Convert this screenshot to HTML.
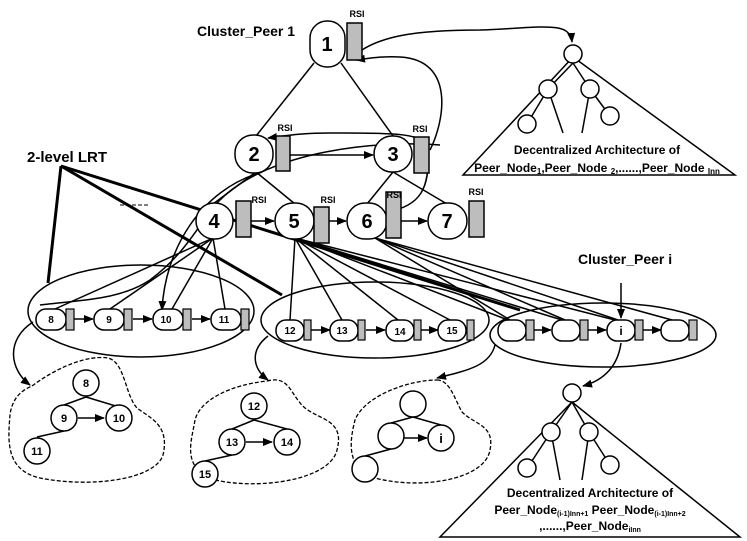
<!DOCTYPE html>
<html><head><meta charset="utf-8"><style>
html,body{margin:0;padding:0;background:#fff}
svg{display:block}
text{font-family:"Liberation Sans",sans-serif;font-weight:bold;fill:#000}
</style></head><body>
<svg width="747" height="541" viewBox="0 0 747 541" xmlns="http://www.w3.org/2000/svg">
<defs>
<marker id="a" markerWidth="10" markerHeight="8" refX="9" refY="4" orient="auto" markerUnits="userSpaceOnUse"><path d="M0,0 L10,4 L0,8 z" fill="#000"/></marker>
</defs>
<g stroke="#000" stroke-width="1.5" fill="none">
<line x1="314" y1="63" x2="256" y2="136"/>
<line x1="341" y1="63" x2="393" y2="136"/>
<line x1="256" y1="172" x2="213" y2="204"/>
<line x1="256" y1="172" x2="295" y2="204"/>
<line x1="393" y1="172" x2="367" y2="204"/>
<line x1="393" y1="172" x2="447" y2="204"/>
<line x1="213" y1="238" x2="55" y2="309"/>
<line x1="213" y1="238" x2="110" y2="309"/>
<line x1="213" y1="238" x2="172" y2="309"/>
<line x1="213" y1="238" x2="225" y2="309"/>
<line x1="295" y1="238" x2="290" y2="320"/>
<line x1="295" y1="238" x2="342" y2="320"/>
<line x1="295" y1="238" x2="398" y2="320"/>
<line x1="295" y1="238" x2="450" y2="320"/>
<line x1="295" y1="238" x2="508" y2="320"/>
<line x1="295" y1="238" x2="562" y2="320"/>
<line x1="295" y1="238" x2="615" y2="320"/>
<line x1="375" y1="238" x2="510" y2="320"/>
<line x1="375" y1="238" x2="565" y2="320"/>
<line x1="375" y1="238" x2="618" y2="320"/>
<line x1="375" y1="238" x2="672" y2="320"/>
<path d="M262,172 C200,190 165,250 162,310" marker-end="url(#a)"/>
<path d="M440,145 C380,140 270,150 220,200 C200,220 190,250 150,280 C120,300 80,300 40,305"/>
<line x1="276" y1="155" x2="373" y2="155" marker-end="url(#a)"/>
<path d="M428,145 C420,132 380,133 330,133 C300,133 285,136 268,138" marker-end="url(#a)"/>
<path d="M430,150 C445,120 455,60 400,57 C385,56 370,58 356,60" marker-end="url(#a)"/>
<path d="M428,150 C430,190 420,205 388,212" marker-end="url(#a)"/>
<path d="M352,58 C375,35 420,30 480,30 C540,28 570,20 572,42" marker-end="url(#a)"/>
<line x1="251" y1="221" x2="274" y2="221" marker-end="url(#a)"/>
<line x1="329" y1="221" x2="346" y2="221" marker-end="url(#a)"/>
<line x1="401" y1="221" x2="427" y2="221" marker-end="url(#a)"/>
<ellipse cx="141" cy="311" rx="113" ry="46"/>
<ellipse cx="375" cy="320" rx="114" ry="38"/>
<ellipse cx="603" cy="335" rx="113" ry="32"/>
<path d="M33,322 C5,340 10,370 30,385" marker-end="url(#a)"/>
<path d="M268,336 C250,350 252,368 268,380" marker-end="url(#a)"/>
<path d="M495,345 C490,365 470,370 437,378" marker-end="url(#a)"/>
<path d="M621,343 C618,365 605,380 583,386" marker-end="url(#a)"/>
<line x1="621" y1="283" x2="621" y2="318" marker-end="url(#a)"/>
<line x1="74" y1="319" x2="93" y2="319" marker-end="url(#a)"/>
<line x1="133" y1="319" x2="152" y2="319" marker-end="url(#a)"/>
<line x1="192" y1="319" x2="210" y2="319" marker-end="url(#a)"/>
<line x1="311" y1="330" x2="330" y2="330" marker-end="url(#a)"/>
<line x1="366" y1="330" x2="385" y2="330" marker-end="url(#a)"/>
<line x1="421" y1="330" x2="438" y2="330" marker-end="url(#a)"/>
<line x1="534" y1="330" x2="551" y2="330" marker-end="url(#a)"/>
<line x1="588" y1="330" x2="606" y2="330" marker-end="url(#a)"/>
<line x1="643" y1="330" x2="661" y2="330" marker-end="url(#a)"/>
</g>
<g stroke="#000" stroke-width="3" fill="none">
<line x1="61" y1="166" x2="48" y2="283"/>
<line x1="61" y1="166" x2="282" y2="295"/>
<line x1="61" y1="166" x2="520" y2="310"/>
</g>
<line x1="120" y1="205" x2="148" y2="205" stroke="#000" stroke-width="1" stroke-dasharray="4,2"/>
<g stroke="#000" stroke-width="1.5" fill="#fff">
<rect x="310" y="21" width="35" height="46" rx="17"/>
<rect x="235" y="135" width="38" height="38" rx="18"/>
<rect x="374" y="136" width="38" height="36" rx="18"/>
<rect x="196" y="203" width="37" height="36" rx="18"/>
<rect x="275" y="203" width="39" height="36" rx="18"/>
<rect x="347" y="203" width="40" height="36" rx="18"/>
<rect x="428" y="203" width="39" height="36" rx="18"/>
</g>
<g stroke="#000" stroke-width="1.5" fill="#bdbdbd">
<rect x="347" y="23" width="15" height="37"/>
<rect x="276" y="136" width="14" height="35"/>
<rect x="414" y="137" width="15" height="36"/>
<rect x="236" y="201" width="15" height="36"/>
<rect x="314" y="207" width="15" height="36"/>
<rect x="386" y="192" width="15" height="46"/>
<rect x="469" y="201" width="15" height="36"/>
</g>
<g font-size="20" text-anchor="middle">
<text x="327" y="51">1</text><text x="254" y="161">2</text><text x="393" y="161">3</text>
<text x="214" y="228">4</text><text x="294" y="228">5</text><text x="367" y="228">6</text><text x="447" y="228">7</text>
</g>
<g font-size="9" text-anchor="middle">
<text x="357" y="17">RSI</text><text x="285" y="131">RSI</text><text x="420" y="132">RSI</text>
<text x="259" y="203">RSI</text><text x="328" y="203">RSI</text><text x="394" y="198">RSI</text><text x="476" y="195">RSI</text>
</g>
<text x="197" y="36" font-size="14">Cluster_Peer 1</text>
<text x="27" y="162" font-size="15">2-level LRT</text>
<text x="578" y="264" font-size="14">Cluster_Peer i</text>
<g stroke="#000" stroke-width="1.5" fill="#fff">
<rect x="36" y="309" width="30" height="21" rx="10"/>
<rect x="94" y="309" width="30" height="21" rx="10"/>
<rect x="153" y="309" width="30" height="21" rx="10"/>
<rect x="211" y="309" width="30" height="21" rx="10"/>
<rect x="276" y="320" width="28" height="21" rx="10"/>
<rect x="330" y="320" width="28" height="21" rx="10"/>
<rect x="386" y="320" width="28" height="21" rx="10"/>
<rect x="438" y="320" width="28" height="21" rx="10"/>
<rect x="498" y="320" width="28" height="21" rx="10"/>
<rect x="552" y="320" width="28" height="21" rx="10"/>
<rect x="607" y="320" width="28" height="21" rx="10"/>
<rect x="661" y="320" width="28" height="21" rx="10"/>
</g>
<g stroke="#000" stroke-width="1.2" fill="#bdbdbd">
<rect x="66" y="309" width="8" height="21"/><rect x="124" y="309" width="8" height="21"/>
<rect x="183" y="309" width="8" height="21"/><rect x="241" y="309" width="8" height="21"/>
<rect x="304" y="320" width="7" height="20"/><rect x="358" y="320" width="7" height="20"/>
<rect x="414" y="320" width="7" height="20"/><rect x="467" y="320" width="7" height="20"/>
<rect x="526" y="320" width="8" height="20"/><rect x="580" y="320" width="8" height="20"/>
<rect x="635" y="320" width="8" height="20"/><rect x="689" y="320" width="8" height="20"/>
</g>
<g font-size="10" text-anchor="middle">
<text x="51" y="323">8</text><text x="109" y="323">9</text><text x="166" y="323">10</text><text x="224" y="323">11</text>
<text x="290" y="334">12</text><text x="342" y="334">13</text><text x="400" y="335">14</text><text x="452" y="334">15</text>
<text x="621" y="335" font-size="12">i</text>
</g>
<g stroke="#000" stroke-width="1.3" fill="none" stroke-dasharray="4,2">
<path d="M32,386 C60,365 90,355 108,358 C125,362 125,395 137,408 C150,418 170,425 163,455 C155,480 90,488 40,478 C5,470 8,440 10,415 C12,398 22,390 32,386 Z"/>
<path d="M267,381 C290,375 290,395 305,408 C320,420 345,420 337,450 C330,480 260,490 215,480 C180,468 192,440 195,420 C200,400 230,385 267,381 Z"/>
<path d="M437,380 C450,380 455,400 462,412 C475,425 495,425 490,450 C485,480 420,490 375,478 C345,468 350,440 355,420 C365,395 410,380 437,380 Z"/>
</g>
<g stroke="#000" stroke-width="1.5" fill="none">
<line x1="86" y1="397" x2="64" y2="405"/><line x1="86" y1="397" x2="119" y2="407"/><line x1="64" y1="431" x2="37" y2="437"/>
<line x1="254" y1="420" x2="232" y2="429"/><line x1="254" y1="420" x2="287" y2="429"/><line x1="232" y1="455" x2="205" y2="461"/>
<line x1="413" y1="417" x2="391" y2="423"/><line x1="413" y1="417" x2="441" y2="425"/><line x1="391" y1="449" x2="365" y2="456"/>
<line x1="78" y1="418" x2="104" y2="418" marker-end="url(#a)"/>
<line x1="246" y1="442" x2="272" y2="442" marker-end="url(#a)"/>
<line x1="404" y1="438" x2="427" y2="438" marker-end="url(#a)"/>
</g>
<g stroke="#000" stroke-width="1.5" fill="#fff">
<circle cx="86" cy="383" r="13"/><circle cx="64" cy="418" r="13"/><circle cx="119" cy="418" r="13"/><circle cx="37" cy="451" r="13"/>
<circle cx="254" cy="406" r="13"/><circle cx="232" cy="442" r="13"/><circle cx="287" cy="442" r="13"/><circle cx="205" cy="474" r="13"/>
<circle cx="413" cy="404" r="13"/><circle cx="391" cy="436" r="13"/><circle cx="441" cy="438" r="13"/><circle cx="365" cy="469" r="13"/>
</g>
<g font-size="11" text-anchor="middle">
<text x="86" y="387">8</text><text x="64" y="422">9</text><text x="119" y="422">10</text><text x="37" y="455">11</text>
<text x="254" y="410">12</text><text x="232" y="446">13</text><text x="287" y="446">14</text><text x="205" y="478">15</text>
<text x="441" y="443" font-size="13">i</text>
</g>
<g stroke="#000" stroke-width="1.5" fill="none">
<path d="M573,57 L735,175 L463,175 Z"/>
<line x1="573" y1="63" x2="548" y2="89"/><line x1="573" y1="63" x2="590" y2="89"/>
<line x1="548" y1="89" x2="527" y2="124"/><line x1="548" y1="89" x2="563" y2="133"/>
<line x1="590" y1="89" x2="582" y2="133"/><line x1="590" y1="89" x2="610" y2="116"/>
<path d="M572,402 L740,537 L440,537 Z"/>
<line x1="572" y1="402" x2="551" y2="432"/><line x1="572" y1="402" x2="589" y2="432"/>
<line x1="551" y1="432" x2="526" y2="470"/><line x1="551" y1="432" x2="560" y2="480"/>
<line x1="589" y1="432" x2="582" y2="480"/><line x1="589" y1="432" x2="610" y2="465"/>
</g>
<g stroke="#000" stroke-width="1.5" fill="#fff">
<circle cx="573" cy="54" r="9"/><circle cx="548" cy="89" r="9"/><circle cx="590" cy="89" r="9"/><circle cx="527" cy="124" r="9"/><circle cx="610" cy="116" r="9"/>
<circle cx="572" cy="393" r="9"/><circle cx="551" cy="432" r="9"/><circle cx="589" cy="432" r="9"/><circle cx="527" cy="468" r="9"/><circle cx="610" cy="465" r="9"/>
</g>
<g font-size="12" text-anchor="middle">
<text x="597" y="154">Decentralized Architecture of</text>
<text x="597" y="172">Peer_Node<tspan font-size="8" dy="2">1</tspan><tspan dy="-2">,Peer_Node </tspan><tspan font-size="8" dy="2">2</tspan><tspan dy="-2">,......,Peer_Node </tspan><tspan font-size="8" dy="2">Inn</tspan></text>
<text x="590" y="497">Decentralized Architecture of</text>
<text x="590" y="514">Peer_Node<tspan font-size="7" dy="2">(i-1)Inn+1</tspan><tspan dy="-2"> Peer_Node</tspan><tspan font-size="7" dy="2">(i-1)Inn+2</tspan></text>
<text x="590" y="530">,......,Peer_Node<tspan font-size="7" dy="2">iInn</tspan></text>
</g>
</svg>
</body></html>
